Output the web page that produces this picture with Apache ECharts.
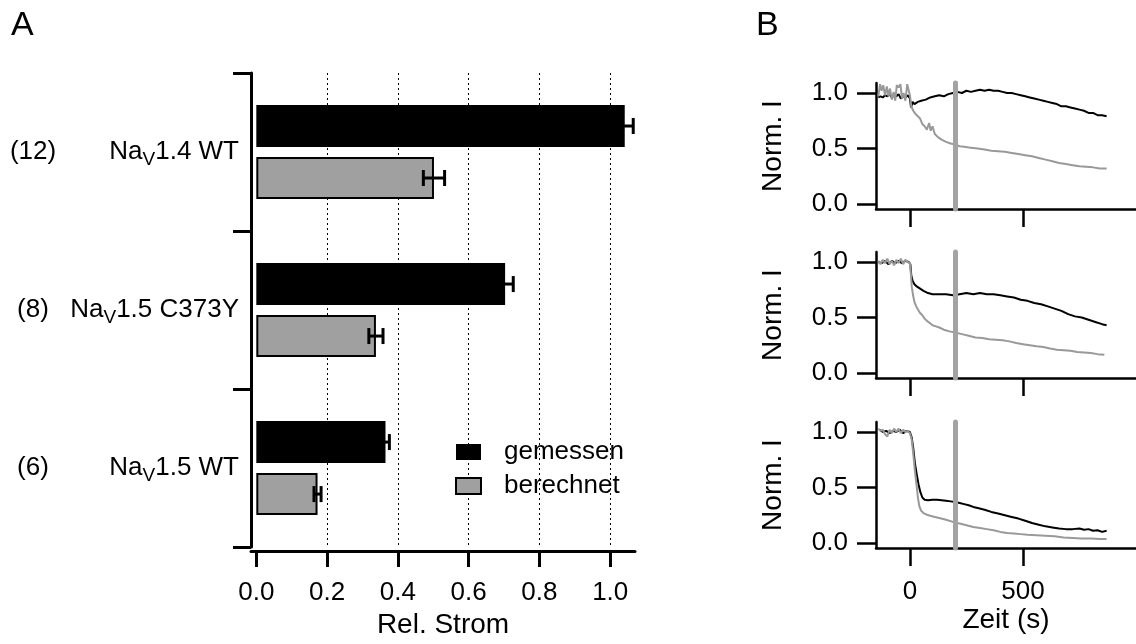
<!DOCTYPE html>
<html>
<head>
<meta charset="utf-8">
<script src="https://cdn.jsdelivr.net/npm/echarts@6/dist/echarts.min.js"></script>
<style>
  html, body { margin: 0; padding: 0; background: #fff; }
  #chart { width: 1136px; height: 644px; }
</style>
</head>
<body>
<div id="chart"></div>
<script>
// ---- Panel A: relative current per channel ----
const channels = ['NaV1.4 WT', 'NaV1.5 C373Y', 'NaV1.5 WT'];
const cellCounts = ['(12)', '(8)', '(6)'];
const measured = [1.041, 0.703, 0.365];
const measuredErr = [0.024, 0.023, 0.011];
const calculated = [0.502, 0.338, 0.173];
const calculatedErr = [0.030, 0.020, 0.010];
const relTicks = [0, 0.2, 0.4, 0.6, 0.8, 1.0];
const relGridLines = [0.2, 0.4, 0.6, 0.8, 1.0];

// ---- Panel B: normalised current over time (s) ----
const timeTicks = [0, 500];
const normTicks = [0, 0.5, 1.0];
const washInTime = 200;

const nav14Measured = [[-140,0.96],[-130,0.97],[-120,0.96],[-110,0.98],[-100,0.97],[-90,0.99],[-80,0.96],[-70,0.98],[-60,0.97],[-50,0.99],[-40,0.95],[-30,0.97],[-20,0.96],[-10,0.98],[0,0.95],[5,0.87],[12,0.92],[20,0.90],[35,0.92],[50,0.93],[70,0.94],[90,0.96],[110,0.97],[130,0.98],[150,0.97],[170,0.99],[190,1.00],[210,1.01],[230,1.00],[250,1.02],[270,1.01],[290,1.02],[310,1.03],[330,1.02],[350,1.03],[370,1.02],[390,1.02],[410,1.01],[430,1.00],[450,1.00],[470,0.99],[490,0.98],[510,0.97],[530,0.96],[550,0.95],[570,0.94],[590,0.93],[610,0.92],[630,0.91],[650,0.90],[670,0.88],[690,0.88],[710,0.87],[730,0.86],[750,0.85],[770,0.84],[790,0.82],[810,0.82],[830,0.80],[850,0.80],[870,0.79]];
const nav14Calculated = [[-140,0.97],[-132,1.08],[-125,1.02],[-118,1.07],[-110,0.98],[-102,1.06],[-95,0.97],[-88,1.04],[-80,0.94],[-72,1.01],[-65,0.93],[-58,1.07],[-50,1.05],[-42,1.08],[-35,0.95],[-28,1.0],[-20,0.93],[-12,1.08],[-5,1.02],[0,0.98],[6,0.88],[15,0.84],[25,0.81],[35,0.79],[45,0.77],[55,0.72],[65,0.70],[75,0.67],[85,0.73],[92,0.66],[100,0.70],[110,0.63],[125,0.60],[140,0.58],[160,0.56],[180,0.545],[200,0.535],[220,0.52],[240,0.515],[260,0.51],[280,0.505],[300,0.50],[330,0.49],[360,0.48],[390,0.475],[420,0.47],[450,0.46],[480,0.45],[510,0.44],[540,0.43],[570,0.415],[600,0.40],[630,0.385],[660,0.37],[690,0.36],[720,0.35],[750,0.34],[780,0.335],[810,0.33],[840,0.32],[870,0.32]];

const c373yMeasured = [[-140,1.0],[-125,0.99],[-110,1.01],[-95,0.98],[-80,1.01],[-65,0.99],[-50,1.01],[-35,0.99],[-20,1.01],[-5,1.0],[2,0.98],[6,0.88],[12,0.83],[20,0.80],[30,0.78],[45,0.76],[60,0.74],[80,0.72],[100,0.71],[130,0.71],[160,0.71],[190,0.70],[220,0.71],[250,0.72],[280,0.71],[310,0.72],[340,0.71],[370,0.71],[400,0.70],[430,0.69],[460,0.68],[490,0.66],[520,0.65],[550,0.63],[580,0.62],[610,0.60],[640,0.58],[670,0.56],[700,0.53],[730,0.51],[760,0.50],[790,0.48],[820,0.46],[850,0.44],[870,0.43]];
const c373yCalculated = [[-140,1.01],[-130,0.98],[-120,1.02],[-110,0.99],[-100,1.03],[-90,0.98],[-80,1.01],[-70,0.97],[-60,1.02],[-50,0.99],[-40,1.03],[-30,0.98],[-20,1.02],[-10,1.0],[0,0.99],[4,0.90],[8,0.78],[14,0.70],[20,0.64],[28,0.60],[36,0.57],[45,0.54],[55,0.52],[65,0.49],[75,0.47],[85,0.455],[100,0.43],[115,0.42],[130,0.41],[150,0.39],[175,0.375],[200,0.365],[230,0.35],[260,0.335],[290,0.32],[320,0.315],[350,0.305],[380,0.30],[410,0.295],[440,0.285],[470,0.27],[500,0.26],[530,0.25],[560,0.24],[590,0.235],[620,0.22],[650,0.21],[680,0.205],[710,0.20],[740,0.19],[770,0.185],[800,0.18],[830,0.17],[860,0.165]];

const nav15Measured = [[-135,1.02],[-120,1.0],[-105,1.01],[-90,0.99],[-75,1.01],[-60,1.0],[-45,1.02],[-30,0.99],[-15,1.01],[0,1.0],[8,0.95],[15,0.85],[22,0.72],[30,0.62],[38,0.53],[46,0.46],[55,0.41],[65,0.39],[80,0.385],[100,0.39],[120,0.39],[140,0.385],[160,0.38],[180,0.375],[200,0.37],[220,0.36],[240,0.35],[260,0.34],[280,0.325],[300,0.315],[330,0.30],[360,0.28],[390,0.265],[420,0.25],[450,0.235],[480,0.22],[510,0.20],[540,0.18],[570,0.165],[600,0.15],[630,0.14],[660,0.13],[690,0.125],[720,0.125],[750,0.13],[770,0.12],[790,0.125],[810,0.11],[830,0.115],[850,0.10],[870,0.11]];
const nav15Calculated = [[-140,1.03],[-130,1.01],[-120,1.02],[-110,0.98],[-100,0.96],[-90,1.02],[-80,0.99],[-70,1.03],[-60,1.0],[-50,1.03],[-40,0.99],[-30,1.02],[-20,1.0],[-10,1.01],[0,0.99],[8,0.93],[15,0.80],[22,0.65],[30,0.51],[36,0.40],[42,0.33],[50,0.29],[60,0.27],[75,0.255],[90,0.245],[110,0.235],[130,0.225],[160,0.21],[190,0.19],[220,0.175],[250,0.16],[280,0.145],[310,0.135],[340,0.125],[370,0.115],[400,0.10],[430,0.09],[460,0.085],[490,0.08],[520,0.075],[560,0.07],[600,0.065],[640,0.06],[680,0.05],[720,0.045],[760,0.04],[800,0.04],[840,0.035],[870,0.035]];

// ---- styling ----
const FONT = "'Liberation Sans', Arial, Helvetica, sans-serif";
const FS = 26;
const FS_NAME = 28;
const GREY_BAR = '#a0a0a0';
const GREY_TRACE = '#999999';
const BAR_W = 42;
const BAR_GAP_PX = 10;

const chart = echarts.init(document.getElementById('chart'), null, { renderer: 'canvas' });

const axisLineA = { show: true, onZero: false, lineStyle: { color: '#000', width: 3 } };
const axisLineB = { show: true, onZero: false, lineStyle: { color: '#000', width: 2.5 } };

// error bars for both bar series, laid out beside each category centre
const errData = [];
measured.forEach((v, i) => errData.push([v, i, measuredErr[i], 0]));
calculated.forEach((v, i) => errData.push([v, i, calculatedErr[i], 1]));

function renderErr(params, api) {
  const v = api.value(0), cat = api.value(1), e = api.value(2), which = api.value(3);
  const off = (which === 0 ? -1 : 1) * (BAR_W + BAR_GAP_PX) / 2;
  const lo = api.coord([v - e, cat]);
  const hi = api.coord([v + e, cat]);
  const y = lo[1] + off;
  const cap = 8;
  const style = { stroke: '#000', lineWidth: 3 };
  return {
    type: 'group',
    children: [
      { type: 'line', shape: { x1: lo[0], y1: y, x2: hi[0], y2: y }, style },
      { type: 'line', shape: { x1: lo[0], y1: y - cap, x2: lo[0], y2: y + cap }, style },
      { type: 'line', shape: { x1: hi[0], y1: y - cap, x2: hi[0], y2: y + cap }, style }
    ]
  };
}

function timeGrid(top) {
  return { left: 876, top: top, width: 299, height: 126 };
}

function timeXAxis(gridIndex, withLabels) {
  return {
    type: 'value', gridIndex, min: -150, max: 1000,
    axisLine: axisLineB,
    axisTick: { show: true, customValues: timeTicks, length: 18, lineStyle: { color: '#000', width: 2.5 } },
    axisLabel: withLabels
      ? { show: true, customValues: timeTicks, color: '#000', fontSize: FS, fontFamily: FONT, margin: 31 }
      : { show: false },
    splitLine: { show: false },
    name: withLabels ? 'Zeit (s)' : '',
    nameLocation: 'middle', nameGap: 58,
    nameTextStyle: { color: '#000', fontSize: FS_NAME, fontFamily: FONT }
  };
}

function normYAxis(gridIndex) {
  return {
    type: 'value', gridIndex, min: -0.045, max: 1.09,
    axisLine: axisLineB,
    axisTick: { show: true, customValues: normTicks, length: 19, lineStyle: { color: '#000', width: 2.5 } },
    axisLabel: {
      show: true, customValues: normTicks, color: '#000', fontSize: FS, fontFamily: FONT, margin: 28,
      formatter: v => v.toFixed(1)
    },
    splitLine: { show: false },
    name: 'Norm. I', nameLocation: 'middle', nameGap: 89,
    nameTextStyle: { color: '#000', fontSize: FS_NAME, fontFamily: FONT }
  };
}

function trace(name, data, axisIdx, color, withMark) {
  const s = {
    type: 'line', name, data, xAxisIndex: axisIdx, yAxisIndex: axisIdx,
    showSymbol: false, symbol: 'none', animation: false,
    lineStyle: { color, width: 2 }, z: color === '#000' ? 3 : 4
  };
  if (withMark) {
    s.markLine = {
      silent: true, symbol: 'none', animation: false, z: 6,
      label: { show: false },
      lineStyle: { color: '#a3a3a3', width: 5, type: 'solid', cap: 'round' },
      data: [{ xAxis: washInTime }]
    };
  }
  return s;
}

const option = {
  animation: false,
  textStyle: { fontFamily: FONT },
  graphic: [
    { type: 'text', left: 11, top: 9, style: { text: 'A', fontSize: 34, fontFamily: FONT, fill: '#000' } },
    { type: 'text', left: 756, top: 9, style: { text: 'B', fontSize: 34, fontFamily: FONT, fill: '#000' } }
  ],
  legend: {
    data: ['gemessen', 'berechnet'],
    orient: 'vertical', left: 455, top: 439,
    itemWidth: 25, itemHeight: 16, itemGap: 8, icon: 'rect',
    padding: 0,
    textStyle: { color: '#000', fontSize: FS, fontFamily: FONT, padding: [0, 0, 0, 18] }
  },
  grid: [
    { left: 251, top: 73, width: 384, height: 475 },
    timeGrid(83), timeGrid(252), timeGrid(422)
  ],
  xAxis: [
    {
      type: 'value', gridIndex: 0, min: -0.015, max: 1.07, offset: 4, position: 'bottom',
      axisLine: axisLineA,
      axisTick: { show: true, customValues: relTicks, length: 16, lineStyle: { color: '#000', width: 3 } },
      axisLabel: { show: true, customValues: relTicks, color: '#000', fontSize: FS, fontFamily: FONT, margin: 29,
        formatter: v => v.toFixed(1) },
      splitLine: { show: false },
      name: 'Rel. Strom', nameLocation: 'middle', nameGap: 59,
      nameTextStyle: { color: '#000', fontSize: FS_NAME, fontFamily: FONT }
    },
    timeXAxis(1, false), timeXAxis(2, false), timeXAxis(3, true)
  ],
  yAxis: [
    {
      type: 'category', gridIndex: 0, data: channels, inverse: true, position: 'left',
      axisLine: axisLineA,
      axisTick: { show: true, interval: 0, alignWithLabel: false, length: 18, lineStyle: { color: '#000', width: 3 } },
      axisLabel: {
        margin: 12, color: '#000', fontFamily: FONT,
        formatter: v => '{m|Na}{s|V}{m|' + v.replace('NaV', '') + '}',
        rich: {
          m: { fontSize: FS, fontFamily: FONT, color: '#000' },
          s: { fontSize: 19, fontFamily: FONT, color: '#000', padding: [16, 0, 0, 0] }
        }
      }
    },
    normYAxis(1), normYAxis(2), normYAxis(3),
    {
      type: 'category', gridIndex: 0, data: cellCounts, inverse: true, position: 'left', offset: 218,
      axisLine: { show: false }, axisTick: { show: false },
      axisLabel: { margin: 0, align: 'center', color: '#000', fontSize: FS, fontFamily: FONT }
    }
  ],
  series: [
    {
      type: 'bar', name: 'gemessen', data: measured, xAxisIndex: 0, yAxisIndex: 0,
      barWidth: BAR_W, barGap: (BAR_GAP_PX / BAR_W * 100) + '%',
      itemStyle: { color: '#000' },
      markLine: {
        silent: true, symbol: 'none', z: 1, animation: false,
        label: { show: false },
        lineStyle: { color: '#000', width: 1, type: [2, 3] },
        data: relGridLines.map(v => ({ xAxis: v }))
      }
    },
    {
      type: 'bar', name: 'berechnet', data: calculated, xAxisIndex: 0, yAxisIndex: 0,
      barWidth: BAR_W,
      itemStyle: { color: GREY_BAR, borderColor: '#000', borderWidth: 2 }
    },
    {
      type: 'custom', name: 'err', data: errData, xAxisIndex: 0, yAxisIndex: 0,
      renderItem: renderErr, encode: { x: 0, y: 1 }, z: 5
    },
    trace('NaV1.4 WT gemessen', nav14Measured, 1, '#000', false),
    trace('NaV1.4 WT berechnet', nav14Calculated, 1, GREY_TRACE, true),
    trace('NaV1.5 C373Y gemessen', c373yMeasured, 2, '#000', false),
    trace('NaV1.5 C373Y berechnet', c373yCalculated, 2, GREY_TRACE, true),
    trace('NaV1.5 WT gemessen', nav15Measured, 3, '#000', false),
    trace('NaV1.5 WT berechnet', nav15Calculated, 3, GREY_TRACE, true)
  ]
};

chart.setOption(option);
</script>
</body>
</html>
